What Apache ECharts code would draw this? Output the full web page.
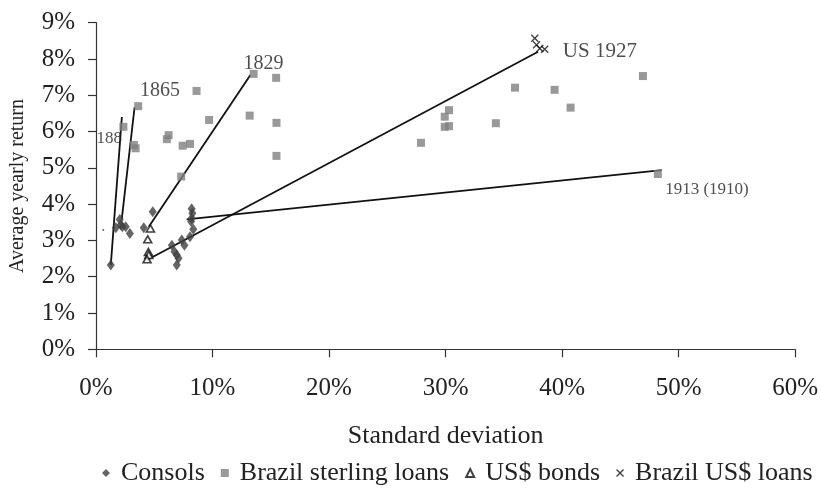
<!DOCTYPE html>
<html>
<head>
<meta charset="utf-8">
<script src="https://cdn.jsdelivr.net/npm/echarts@6/dist/echarts.min.js"></script>
<style>html,body{margin:0;padding:0;background:#fff}#c{width:821px;height:496px}</style>
</head>
<body>
<div id="c"></div>
<script>
// ---- data (percent) ----
const xTicks = [0, 10, 20, 30, 40, 50, 60];
const yTicks = [0, 1, 2, 3, 4, 5, 6, 7, 8, 9];
const seriesNames = ['Consols', 'Brazil sterling loans', 'US$ bonds', 'Brazil US$ loans'];
const consols = [[1.27,2.32],[1.70,3.35],[2.04,3.58],[2.12,3.43],[2.26,3.38],[2.55,3.38],[2.91,3.19],[4.10,3.35],[4.87,3.79],[6.51,2.87],[6.74,2.69],[6.93,2.60],[7.08,2.51],[6.93,2.32],[7.36,3.01],[7.59,2.87],[8.07,3.10],[8.21,3.87],[8.27,3.75],[8.21,3.61],[8.16,3.52],[8.35,3.31]];
const brazilSterling = [[2.35,6.13],[3.62,6.70],[3.25,5.63],[3.40,5.54],[6.23,5.90],[6.08,5.79],[7.44,5.61],[8.07,5.66],[7.31,4.76],[8.63,7.12],[9.71,6.32],[13.53,7.59],[15.46,7.48],[13.19,6.44],[15.49,6.24],[15.49,5.33],[27.89,5.69],[29.93,6.41],[30.30,6.59],[29.93,6.13],[30.30,6.15],[34.32,6.23],[35.96,7.21],[39.36,7.15],[40.73,6.66],[46.94,7.53],[48.22,4.83]];
const usBonds = [[4.67,3.33],[4.44,3.03],[4.50,2.68],[4.53,2.60],[4.38,2.48]];
const brazilUSLoans = [[37.66,8.57],[37.81,8.39],[38.09,8.29],[38.51,8.27]];
const strayMark = [[0.62,3.29]];
// trend lines: start and end points
const trendLines = [
  [[1.27,2.32],[2.22,6.40]],
  [[2.21,3.58],[3.31,6.67]],
  [[4.53,3.38],[13.25,7.56]],
  [[4.38,2.46],[37.94,8.20]],
  [[7.78,3.58],[48.56,4.94]]
];
// line labels and their anchor (data coords)
const lineLabels = ['188', '1865', '1829', 'US 1927', '1913 (1910)'];
const lineLabelAt = [[0.05,5.82],[3.77,7.12],[12.66,7.86],[40.07,8.22],[48.85,4.39]];
const lineLabelSize = [17, 20, 20, 21, 17];

const FONT = '"Liberation Serif", "Times New Roman", serif';
const TXT = '#222';
const crossPath = 'path://M0,1.2 L1.2,0 L5,3.8 L8.8,0 L10,1.2 L6.2,5 L10,8.8 L8.8,10 L5,6.2 L1.2,10 L0,8.8 L3.8,5 Z';

const chart = echarts.init(document.getElementById('c'), null, {renderer: 'canvas'});

const series = [];
trendLines.forEach((seg) => {
  series.push({
    type: 'line', data: seg, symbol: 'none', silent: true, z: 3,
    lineStyle: {color: '#111', width: 1.8}, animation: false
  });
});
series.push({
  name: seriesNames[0], type: 'scatter', data: consols, symbol: 'diamond', symbolSize: [8, 11], z: 4,
  itemStyle: {color: '#3f3f3f'}
});
series.push({
  name: seriesNames[1], type: 'scatter', data: brazilSterling, symbol: 'rect', symbolSize: 8, z: 4,
  itemStyle: {color: '#808080'}
});
series.push({
  name: seriesNames[2], type: 'scatter', data: usBonds, symbol: 'triangle', symbolSize: [8, 7], z: 5,
  itemStyle: {color: '#fff', borderColor: '#111', borderWidth: 1.6}
});
series.push({
  name: seriesNames[3], type: 'scatter', data: brazilUSLoans, symbol: crossPath, symbolSize: 8, z: 5,
  itemStyle: {color: '#111'}
});
series.push({
  type: 'scatter', silent: true, data: strayMark, symbol: 'circle', symbolSize: 2, z: 5,
  itemStyle: {color: '#333'}
});
series.push({
  type: 'scatter', silent: true, symbolSize: 0, z: 6,
  data: lineLabels.map((t, i) => ({
    value: lineLabelAt[i],
    label: {show: true, formatter: t, position: 'right', distance: 0, fontSize: lineLabelSize[i],
      fontFamily: FONT, color: TXT}
  }))
});

chart.setOption({
  animation: false,
  backgroundColor: '#fff',
  grid: {left: 92, right: 23, top: 22.7, bottom: 146.7, containLabel: false},
  xAxis: {
    type: 'value', min: xTicks[0], max: xTicks[xTicks.length - 1], interval: 10,
    name: 'Standard deviation', nameLocation: 'middle', nameGap: 74,
    nameTextStyle: {fontFamily: FONT, fontSize: 26, color: TXT},
    axisLine: {show: true, lineStyle: {color: '#333', width: 1.2}},
    axisTick: {show: true, inside: false, length: 8, lineStyle: {color: '#333', width: 1.2}},
    axisLabel: {fontFamily: FONT, fontSize: 25, color: TXT, margin: 27, formatter: '{value}%'},
    splitLine: {show: false}
  },
  yAxis: {
    type: 'value', min: yTicks[0], max: yTicks[yTicks.length - 1], interval: 1,
    name: 'Average yearly return', nameLocation: 'middle', nameGap: 68, nameRotate: 90,
    nameTextStyle: {fontFamily: FONT, fontSize: 20, color: TXT},
    axisLine: {show: true, lineStyle: {color: '#333', width: 1.2}},
    axisTick: {show: true, inside: false, length: 8, lineStyle: {color: '#333', width: 1.2}},
    axisLabel: {fontFamily: FONT, fontSize: 25, color: TXT, margin: 21, formatter: '{value}%'},
    splitLine: {show: false}
  },
  legend: {
    data: seriesNames, top: 460, left: 102, right: 0, padding: 0, itemWidth: 8, itemHeight: 8, itemGap: 16,
    textStyle: {fontFamily: FONT, fontSize: 26, color: TXT, padding: [0, 0, 0, 6]}
  },
  series: series
});
</script>
</body>
</html>
